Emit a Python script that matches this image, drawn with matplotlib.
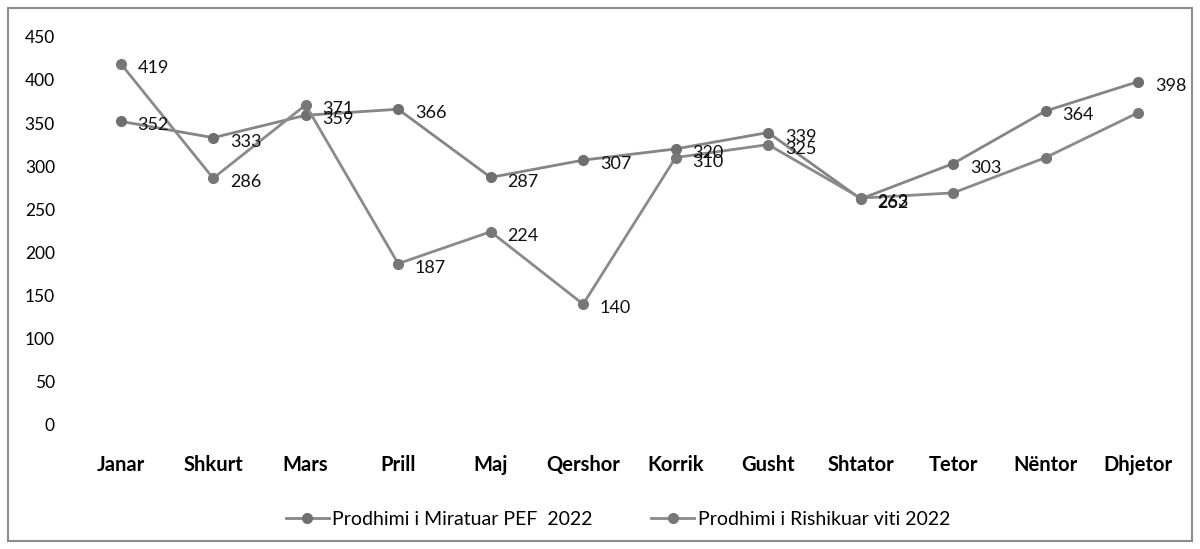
import numpy as np
import matplotlib.pyplot as plt
from matplotlib.patches import Rectangle

plt.rcParams['font.family'] = ['Lato', 'DejaVu Sans']

muajt = ['Janar', 'Shkurt', 'Mars', 'Prill', 'Maj', 'Qershor', 'Korrik',
         'Gusht', 'Shtator', 'Tetor', 'Nëntor', 'Dhjetor']
miratuar = [352, 333, 359, 366, 287, 307, 320, 339, 262, 303, 364, 398]
rishikuar = [419, 286, 371, 187, 224, 140, 310, 325, 263, 269, 310, 362]
# only the first nine months of the revised series carry labels
rishikuar_labeled = 9

emer_miratuar = 'Prodhimi i Miratuar PEF  2022'
emer_rishikuar = 'Prodhimi i Rishikuar viti 2022'

fig = plt.figure(figsize=(12, 5.49), dpi=100)
ax = fig.add_axes([0.062, 0.226, 0.925, 0.707])

x = np.arange(len(muajt))
ax.plot(x, miratuar, color='#858585', lw=2, marker='o', ms=7,
        mfc='#6f6f6f', mec='#6f6f6f', label=emer_miratuar)
ax.plot(x, rishikuar, color='#8a8a8a', lw=2, marker='o', ms=7,
        mfc='#777777', mec='#777777', label=emer_rishikuar)

for i, v in enumerate(miratuar):
    ax.annotate(str(v), (x[i], v), xytext=(12, -3), textcoords='offset points',
                va='center', ha='left', fontsize=13, color='#111111')
for i, v in enumerate(rishikuar[:rishikuar_labeled]):
    ax.annotate(str(v), (x[i], v), xytext=(12, -3), textcoords='offset points',
                va='center', ha='left', fontsize=13, color='#111111')

ax.set_xlim(-0.5, len(muajt) - 0.5)
ax.set_ylim(0, 450)
ax.set_yticks(np.arange(0, 451, 50))
ax.set_xticks(x)
ax.set_xticklabels(muajt, fontweight='bold', fontsize=14.5)
ax.tick_params(axis='y', labelsize=12.5, length=0, pad=14)
ax.tick_params(axis='x', length=0, pad=22)
for s in ax.spines.values():
    s.set_visible(False)

fig.legend(loc='center', bbox_to_anchor=(0.515, 0.054), ncol=2, frameon=False,
           fontsize=14, handlelength=2.2, handletextpad=0.2, columnspacing=3.0)

fig.patches.append(Rectangle((0.007, 0.015), 0.986, 0.97, transform=fig.transFigure,
                             fill=False, edgecolor='#8c8c8c', lw=1.5))

fig.savefig('out.png', dpi=100)
